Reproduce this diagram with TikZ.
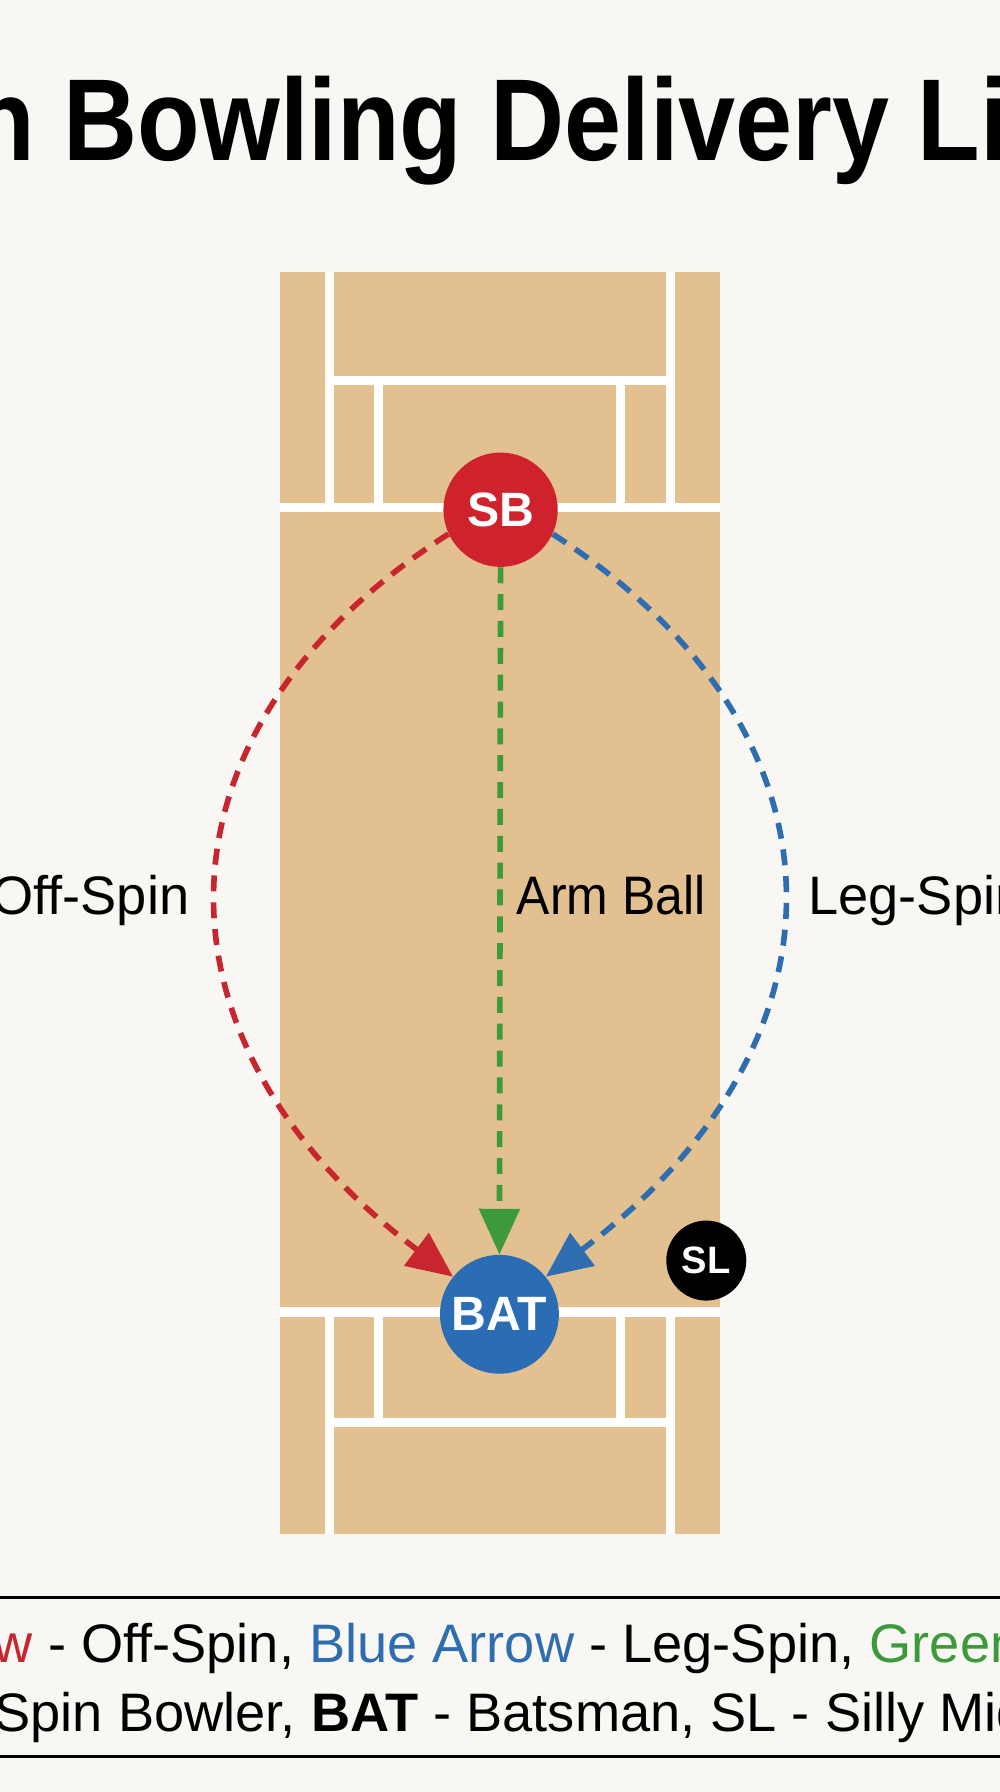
\documentclass[tikz,border=0pt]{standalone}
\usepackage{fontspec}
\setmainfont{Liberation Sans}
\usetikzlibrary{arrows.meta}
\definecolor{bg}{HTML}{F8F7F3}
\definecolor{pitch}{HTML}{E2C08F}
\definecolor{sbred}{HTML}{D0222D}
\definecolor{batblue}{HTML}{2A6DB5}
\definecolor{offred}{HTML}{C8262E}
\definecolor{legblue}{HTML}{2E6DB0}
\definecolor{armgreen}{HTML}{3C9A3A}
\tikzset{
  wl/.style={white, line width=4.5pt},
  circ/.style={circle, inner sep=0pt, text=white, font=\fontsize{24}{24}\selectfont\bfseries},
  path/.style={dashed, dash pattern=on 0.28cm off 0.19cm, line width=2.8pt, -{Triangle[length=0.8cm,width=0.7cm]}},
  lbl/.style={font=\fontsize{27}{30}\selectfont, inner sep=0pt},
  legtxt/.style={font=\fontsize{27}{30}\selectfont, inner sep=0pt}
}
\begin{document}
\begin{tikzpicture}[x=0.02cm,y=-0.02cm]
\fill[bg] (0,0) rectangle (875,1568);
\useasboundingbox (0,0) rectangle (875,1568);
\clip (0,0) rectangle (875,1568);
% title
\node[font=\fontsize{58}{62}\selectfont\bfseries, xscale=0.88, anchor=base] (title) at (437,140) {Spin Bowling Delivery Lines};
% pitch
\fill[pitch] (245,238) rectangle (630,1342);
\draw[wl] (288,238) -- (288,440) (587,238) -- (587,440);
\draw[wl] (288,333) -- (587,333);
\draw[wl] (331,333) -- (331,440) (543,333) -- (543,440);
\draw[wl] (245,444) -- (630,444);
\draw[wl] (245,1148) -- (630,1148);
\draw[wl] (288,1148) -- (288,1342) (587,1148) -- (587,1342);
\draw[wl] (331,1148) -- (331,1243) (543,1148) -- (543,1243);
\draw[wl] (288,1245) -- (587,1245);
% players
\node[circ, fill=sbred, minimum size=2.0cm] (SB) at (438,446) {SB};
\node[circ, fill=batblue, minimum size=2.08cm] (BAT) at (437,1150) {BAT};
\node[circ, fill=black, minimum size=1.4cm, font=\fontsize{19}{19}\selectfont\bfseries] (SL) at (618,1103) {SL};
% arrows
\draw[path, armgreen] (SB.south) -- (BAT.north);
\draw[path, offred] (SB.205) .. controls (123,640) and (123,912) .. (BAT.141);
\draw[path, legblue] (SB.-25) .. controls (752,640) and (752,912) .. (BAT.39);
% labels
\node[lbl, anchor=base east] (loff) at (166,800) {Off-Spin};
\node[lbl, anchor=base west, xscale=0.92] (larm) at (452,800) {Arm Ball};
\node[lbl, anchor=base west] (lleg) at (707,800) {Leg-Spin};
% legend
\draw[line width=1.5pt] (-5,1398) rectangle (880,1537);
\node[legtxt, anchor=base] (leg1) at (528,1455) {\textcolor{offred}{Red Arrow} - Off-Spin, \textcolor{legblue}{Blue Arrow} - Leg-Spin, \textcolor{armgreen}{Green Arrow} - Arm Ball};
\node[legtxt, anchor=base] (leg2) at (432,1515) {\textbf{SB} - Spin Bowler, \textbf{BAT} - Batsman, SL - Silly Mid-Off};
\end{tikzpicture}
\end{document}
